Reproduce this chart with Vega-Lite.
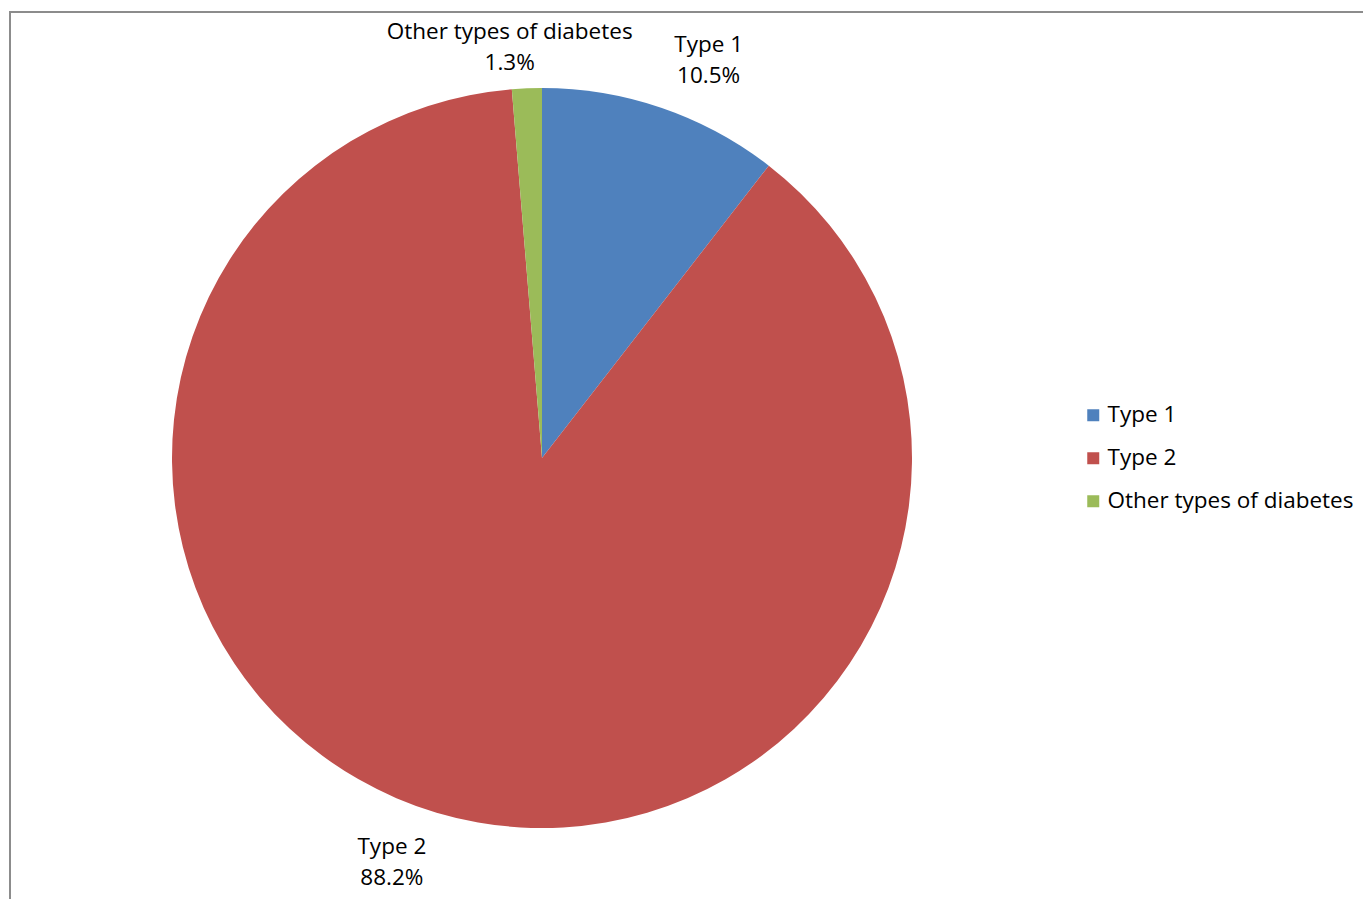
{
  "$schema": "https://vega.github.io/schema/vega-lite/v6.json",
  "padding": {"left": 9, "top": 11, "right": 0, "bottom": 0},
  "bounds": "flush",
  "background": "white",
  "spacing": 0,
  "config": {"font": "Open Sans", "concat": {"spacing": 0}, "text": {"fontSize": 22.5, "color": "#000000", "radius": 425}},
  "hconcat": [
    {
      "width": 1064,
      "height": 892,
      "view": {"stroke": "#8c8c8c", "strokeWidth": 2, "strokeDash": [1064, 1956, 892]},
      "data": {
        "values": [
          {"category": "Type 1", "value": 0.105, "order": 1},
          {"category": "Type 2", "value": 0.882, "order": 2},
          {"category": "Other types of diabetes", "value": 0.013, "order": 3}
        ]
      },
      "encoding": {
        "theta": {"field": "value", "type": "quantitative", "stack": true},
        "order": {"field": "order", "type": "quantitative"}
      },
      "layer": [
        {
          "mark": {"type": "arc", "outerRadius": 370},
          "encoding": {
            "color": {
              "field": "category",
              "type": "nominal",
              "scale": {
                "domain": ["Type 1", "Type 2", "Other types of diabetes"],
                "range": ["#4F81BD", "#C0504D", "#9BBB59"]
              },
              "legend": {
                "orient": "none",
                "legendX": 1072,
                "legendY": 392,
                "title": null,
                "symbolType": "square",
                "symbolSize": 144,
                "symbolStrokeWidth": 0,
                "labelFontSize": 22.5,
                "labelColor": "#000000",
                "labelOffset": 3,
                "labelLimit": 0,
                "rowPadding": 20,
                "labelFont": "Open Sans"
              }
            }
          }
        },
        {
          "mark": {"type": "text", "clip": true, "dx": 29, "dy": -10.5},
          "encoding": {"text": {"condition": {"test": "datum.category === 'Type 1'", "field": "category"}, "value": ""}}
        },
        {
          "mark": {"type": "text", "clip": true, "dx": 29, "dy": 20.5},
          "encoding": {"text": {"condition": {"test": "datum.category === 'Type 1'", "field": "value", "type": "quantitative", "format": ".1%"}, "value": ""}}
        },
        {
          "mark": {"type": "text", "clip": true, "dx": -29, "dy": -18},
          "encoding": {"text": {"condition": {"test": "datum.category === 'Type 2'", "field": "category"}, "value": ""}}
        },
        {
          "mark": {"type": "text", "clip": true, "dx": -29, "dy": 13},
          "encoding": {"text": {"condition": {"test": "datum.category === 'Type 2'", "field": "value", "type": "quantitative", "format": ".1%"}, "value": ""}}
        },
        {
          "mark": {"type": "text", "clip": true, "dx": -15, "dy": -1.5},
          "encoding": {"text": {"condition": {"test": "datum.category === 'Other types of diabetes'", "field": "category"}, "value": ""}}
        },
        {
          "mark": {"type": "text", "clip": true, "dx": -15, "dy": 29.5},
          "encoding": {"text": {"condition": {"test": "datum.category === 'Other types of diabetes'", "field": "value", "type": "quantitative", "format": ".1%"}, "value": ""}}
        }
      ]
    },
    {
      "width": 290,
      "height": 892,
      "view": {"stroke": "#8c8c8c", "strokeWidth": 2, "strokeDash": [290, 4000]},
      "data": {"values": [{}]},
      "mark": "text",
      "encoding": {"text": {"value": ""}}
    }
  ]
}
